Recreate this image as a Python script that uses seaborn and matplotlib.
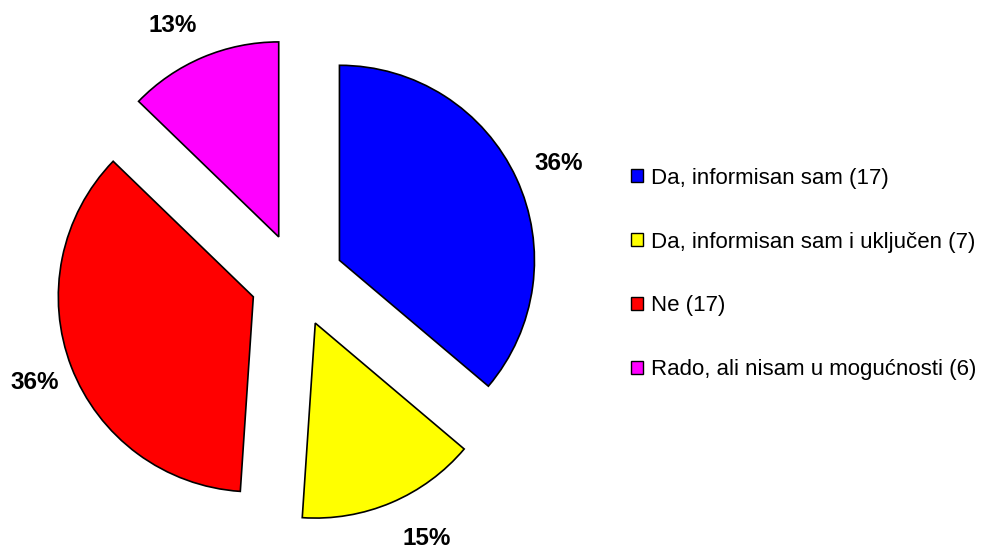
import matplotlib
matplotlib.use("Agg")
import matplotlib.pyplot as plt
import seaborn as sns
from matplotlib.patches import Patch

sns.set_style("white")
plt.rcParams['font.family'] = ['Liberation Sans', 'DejaVu Sans']
plt.rcParams['text.color'] = 'black'

categories = ["Da, informisan sam", "Da, informisan sam i uključen", "Ne",
              "Rado, ali nisam u mogućnosti"]
counts = [17, 7, 17, 6]
colors = ["#0000FF", "#FFFF00", "#FF0000", "#FF00FF"]
labels = [f"{c} ({n})" for c, n in zip(categories, counts)]

W, H, DPI = 988, 548, 100
fig = plt.figure(figsize=(W / DPI, H / DPI), dpi=DPI)
ax = fig.add_axes([0, 0, 1, 1])

R = 195.0  # pixels per unit radius
cx, cy = 297.0, 280.0  # centre in pixels (from top)

wedges, texts, autotexts = ax.pie(
    counts, colors=colors, startangle=90, counterclock=False,
    explode=[0.24] * len(counts), radius=1.0,
    autopct=lambda p: f"{p:.0f}%", pctdistance=1.22,
    wedgeprops=dict(edgecolor="black", linewidth=1.2),
    textprops=dict(fontsize=17.5, fontweight="bold", color="black"),
)

# small nudges of label positions (pixels: right, down)
nudges = [(3, 3), (19, -4), (3, 0), (-13, 8)]
for t, (dx, dy) in zip(autotexts, nudges):
    x, y = t.get_position()
    t.set_position((x + dx / R, y - dy / R))

ax.set_xlim(-cx / R, (W - cx) / R)
ax.set_ylim(-(H - cy) / R, cy / R)
ax.set_aspect("equal", adjustable="box")
ax.axis("off")

handles = [Patch(facecolor=c, edgecolor="black", linewidth=1.0) for c in colors]
fig.legend(handles, labels, loc="center left", bbox_to_anchor=(631 / W, 0.5),
           frameon=False, fontsize=16, handlelength=0.55, handleheight=0.55,
           handletextpad=0.35, labelspacing=1.93, borderpad=0, borderaxespad=0,
           labelcolor="black")

fig.savefig("out.png", dpi=DPI, facecolor="white")
